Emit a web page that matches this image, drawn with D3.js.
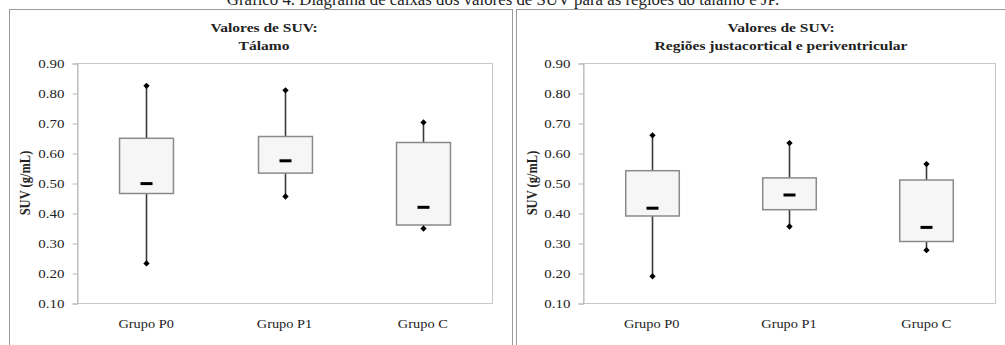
<!DOCTYPE html>
<html>
<head>
<meta charset="utf-8">
<script src="https://cdn.jsdelivr.net/npm/d3@7"></script>
<style>
  body { margin: 0; background: #fff; }
  svg text { font-family: "Liberation Serif", "Times New Roman", serif !important; fill: #222; }
</style>
</head>
<body>
<div id="chart"></div>
<script>
// data
var groups = ["Grupo P0", "Grupo P1", "Grupo C"];
var yTicks = [0.10, 0.20, 0.30, 0.40, 0.50, 0.60, 0.70, 0.80, 0.90];

var talamoMin = [0.232, 0.455, 0.348];
var talamoQ1  = [0.465, 0.533, 0.360];
var talamoMed = [0.498, 0.574, 0.419];
var talamoQ3  = [0.649, 0.655, 0.635];
var talamoMax = [0.824, 0.809, 0.702];

var jpMin = [0.189, 0.355, 0.276];
var jpQ1  = [0.390, 0.411, 0.305];
var jpMed = [0.416, 0.460, 0.352];
var jpQ3  = [0.541, 0.517, 0.510];
var jpMax = [0.659, 0.633, 0.563];

var W = 1005, H = 345;
var sx = 1.15; // the source image is a bit stretched sideways

var svg = d3.select("#chart").append("svg").attr("width", W).attr("height", H);

function stext(g, x, y, str, size, weight, stretch) {
  var s = stretch || sx;
  return g.append("text")
    .attr("transform", "translate(" + x + "," + y + ") scale(" + s + ",1)")
    .attr("text-anchor", "middle")
    .style("font-family", "Liberation Serif")
    .style("font-size", size + "px")
    .style("font-weight", weight || "normal")
    .text(str);
}

// caption cut off at the top
stext(svg, 503, 5, "Gráfico 4. Diagrama de caixas dos valores de SUV para as regiões do tálamo e JP.", 16.5, "normal", 1.02);

var panels = [
  { x0: 9, x1: 512, title2: "Tálamo", left: 77, right: 492, titleX: 264,
    min: talamoMin, q1: talamoQ1, med: talamoMed, q3: talamoQ3, max: talamoMax },
  { x0: 516, x1: 1046, title2: "Regiões justacortical e periventricular", left: 583, right: 995, titleX: 781,
    min: jpMin, q1: jpQ1, med: jpMed, q3: jpQ3, max: jpMax }
];

var plotTop = 63, plotBottom = 303;

panels.forEach(function(p) {
  var g = svg.append("g");

  // panel frame (runs off the bottom of the picture)
  g.append("rect")
    .attr("x", p.x0 + 0.5).attr("y", 9.5)
    .attr("width", p.x1 - p.x0).attr("height", 400)
    .attr("fill", "none").attr("stroke", "#9a9a9a").attr("stroke-width", 1);

  stext(g, p.titleX, 32, "Valores de SUV:", 13.5, "bold");
  stext(g, p.titleX, 50, p.title2, 13.5, "bold");

  var y = d3.scaleLinear().domain([0.1, 0.9]).range([plotBottom, plotTop]);
  var x = d3.scaleBand().domain(groups).range([p.left, p.right]);

  // plot area border
  g.append("rect")
    .attr("x", p.left + 0.5).attr("y", plotTop + 0.5)
    .attr("width", p.right - p.left).attr("height", plotBottom - plotTop)
    .attr("fill", "none").attr("stroke", "#c8c8c8").attr("stroke-width", 1);

  var yAxis = g.append("g")
    .attr("transform", "translate(" + (p.left + 0.5) + ",0.5)")
    .attr("font-family", "Liberation Serif")
    .call(d3.axisLeft(y).tickValues(yTicks).tickFormat(d3.format(".2f")).tickSize(5).tickPadding(4));
  yAxis.attr("font-family", "Liberation Serif");
  yAxis.select(".domain").attr("stroke", "#b8b8b8");
  yAxis.selectAll(".tick line").attr("stroke", "#b8b8b8");
  yAxis.selectAll(".tick text")
    .attr("fill", "#333")
    .style("font-size", "13px")
    .attr("transform", "scale(" + sx + ",1)")
    .attr("x", -13 / sx);

  // y axis title
  g.append("text")
    .attr("transform", "translate(" + (p.x0 + 21) + "," + ((plotTop + plotBottom) / 2) + ") rotate(-90) scale(1," + sx + ")")
    .attr("text-anchor", "middle")
    .style("font-size", "12.5px")
    .style("font-weight", "bold")
    .text("SUV (g/mL)");

  // category labels
  groups.forEach(function(gr) {
    stext(g, x(gr) + x.bandwidth() / 2, 328, gr, 12.5);
  });

  var boxW = x.bandwidth() * 0.39;

  var box = g.selectAll(".box")
    .data(groups)
    .enter().append("g")
      .attr("class", "box");

  var cx = function(d) { return Math.round(x(d) + x.bandwidth() / 2) + 0.5; };

  // whiskers
  box.append("line")
    .attr("x1", cx).attr("x2", cx)
    .attr("y1", function(d, i) { return y(p.max[i]); })
    .attr("y2", function(d, i) { return y(p.q3[i]); })
    .attr("stroke", "#3a3a3a").attr("stroke-width", 1.6);
  box.append("line")
    .attr("x1", cx).attr("x2", cx)
    .attr("y1", function(d, i) { return y(p.q1[i]); })
    .attr("y2", function(d, i) { return y(p.min[i]); })
    .attr("stroke", "#3a3a3a").attr("stroke-width", 1.6);

  box.append("rect")
    .attr("x", function(d) { return cx(d) - boxW / 2; })
    .attr("y", function(d, i) { return y(p.q3[i]); })
    .attr("width", boxW)
    .attr("height", function(d, i) { return y(p.q1[i]) - y(p.q3[i]); })
    .attr("fill", "#f6f6f6")
    .attr("stroke", "#8a8a8a").attr("stroke-width", 1.5);

  // median dash
  box.append("rect")
    .attr("x", function(d) { return cx(d) - 6; })
    .attr("y", function(d, i) { return y(p.med[i]) - 1.5; })
    .attr("width", 12).attr("height", 3)
    .attr("fill", "#000");

  // min / max diamonds (square diamond, like the Excel marker)
  var diamond = d3.symbol().type(d3.symbolSquare).size(20);
  ["min", "max"].forEach(function(k) {
    box.append("path")
      .attr("d", diamond)
      .attr("transform", function(d, i) { return "translate(" + cx(d) + "," + y(p[k][i]) + ") rotate(45)"; })
      .attr("fill", "#000");
  });
});
</script>
</body>
</html>
